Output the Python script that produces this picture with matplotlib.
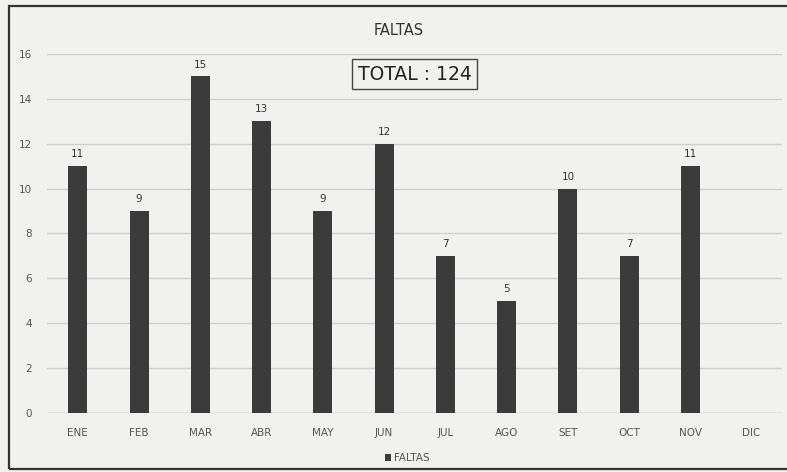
import matplotlib

matplotlib.use("Agg")
import matplotlib.pyplot as plt
import numpy as np
from matplotlib.patches import Rectangle

months = ["ENE", "FEB", "MAR", "ABR", "MAY", "JUN", "JUL", "AGO", "SET", "OCT", "NOV", "DIC"]
faltas = [11, 9, 15, 13, 9, 12, 7, 5, 10, 7, 11, np.nan]
yticks = [0, 2, 4, 6, 8, 10, 12, 14, 16]
total_text = "TOTAL : 124"

BG = "#f1f1f0"
BAR = "#3b3b3b"

fig = plt.figure(figsize=(7.87, 4.72), dpi=100, facecolor=BG)
ax = fig.add_axes([0.060, 0.125, 0.934, 0.761])
ax.set_facecolor(BG)

x = np.arange(len(months))
ax.bar(x, faltas, width=0.31, color=BAR, label="FALTAS", zorder=3)
for xi, v in zip(x, faltas):
    if not np.isnan(v):
        ax.text(xi, v + 0.3, f"{int(v)}", ha="center", va="bottom", fontsize=7.5, color="#333333")

ax.set_xlim(-0.5, len(months) - 0.5)
ax.set_ylim(0, 16)
ax.set_yticks(yticks)
ax.set_xticks(x, months)
ax.tick_params(axis="both", length=0, labelsize=7.5, colors="#555555")
ax.tick_params(axis="x", pad=11)
ax.tick_params(axis="y", pad=11)
ax.grid(axis="y", color="#cfcfcf", lw=1, zorder=0)
for s in ax.spines.values():
    s.set_visible(False)
ax.axhline(0, color="#c4c4c4", lw=1, zorder=2)

fig.text(0.506, 0.935, "FALTAS", ha="center", va="center", fontsize=10.5, color="#333333")
fig.text(0.527, 0.843, total_text, ha="center", va="center", fontsize=13.5, color="#222222",
         bbox=dict(boxstyle="square,pad=0.3", fc=BG, ec="#444444", lw=1))

ax.legend(loc="upper center", bbox_to_anchor=(0.49, -0.085), frameon=False, fontsize=7.5,
          handlelength=0.6, handleheight=0.6, handletextpad=0.3, labelcolor="#555555")

fig.patches.append(Rectangle((0.011, 0.006), 0.995, 0.982, transform=fig.transFigure,
                             fill=False, ec="#333333", lw=1.6))

fig.savefig("out.png", dpi=100, facecolor=BG)
